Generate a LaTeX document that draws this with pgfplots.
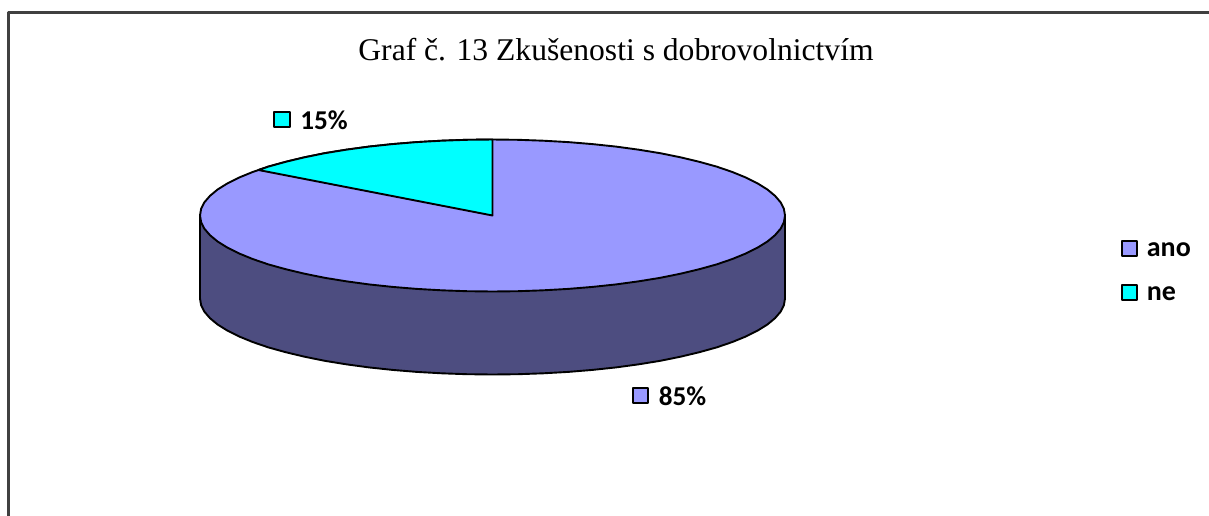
\documentclass[border=0pt]{standalone}
\usepackage{pgfplots}
\pgfplotsset{compat=1.18}
\usepackage{fontspec}
\setmainfont{Liberation Serif}
\newfontfamily\lab{Carlito}[Scale=1]
\definecolor{ano}{HTML}{9999FF}
\definecolor{ne}{HTML}{00FFFF}
\definecolor{side}{HTML}{4D4D80}
\definecolor{frm}{HTML}{404040}
\begin{document}
\begin{tikzpicture}
\path[use as bounding box] (0,0) rectangle (604.5pt,257.5pt);
\begin{axis}[
  at={(0,0)}, anchor=south west,
  scale only axis, width=604.5pt, height=257.5pt,
  xmin=-0.5, xmax=1208.5, ymin=-0.5, ymax=514.5, y dir=reverse,
  hide axis, clip=true,
  every axis plot/.append style={line join=round},
]
% frame
\addplot[frm, line width=1.1pt] coordinates {(8,520) (8,12) (1215,12)};
% side of the disc
\addplot[fill=side, draw=black, line width=0.95pt] coordinates {
(199.5,215)(199.5,298)(200.6,304.6)(203.9,311.2)(209.5,317.7)(217.1,324)(226.9,330.1)(238.7,336)(252.4,341.6)(267.9,346.9)(285.2,351.7)(304,356.2)(324.2,360.3)(345.7,363.8)(368.4,366.9)(392,369.4)(416.3,371.4)(441.2,372.8)(466.5,373.7)(492,374)
(517.5,373.7)(542.8,372.8)(567.7,371.4)(592,369.4)(615.6,366.9)(638.3,363.8)(659.8,360.3)(680,356.2)(698.8,351.7)(716.1,346.9)(731.6,341.6)(745.3,336)(757.1,330.1)(766.9,324)(774.5,317.7)(780.1,311.2)(783.4,304.6)(784.5,298)(784.5,215)} -- cycle;
% top: ano 85 %
\addplot[fill=ano, draw=black, line width=0.95pt] coordinates {
(784.5,215)(783.4,208.4)(780.1,201.8)(774.5,195.3)(766.9,189)(757.1,182.9)(745.3,177)(731.6,171.4)(716.1,166.1)(698.8,161.3)(680,156.8)(659.8,152.7)(638.3,149.2)(615.6,146.1)(592,143.6)(567.7,141.6)(542.8,140.2)(517.5,139.3)(492,139)
(466.5,139.3)(441.2,140.2)(416.3,141.6)(392,143.6)(368.4,146.1)(345.7,149.2)(324.2,152.7)(304,156.8)(285.2,161.3)(267.9,166.1)(252.4,171.4)(238.7,177)(226.9,182.9)(217.1,189)(209.5,195.3)(203.9,201.8)(200.6,208.4)(199.5,215)
(200.6,221.6)(203.9,228.2)(209.5,234.7)(217.1,241)(226.9,247.1)(238.7,253)(252.4,258.6)(267.9,263.9)(285.2,268.7)(304,273.2)(324.2,277.3)(345.7,280.8)(368.4,283.9)(392,286.4)(416.3,288.4)(441.2,289.8)(466.5,290.7)(492,291)
(517.5,290.7)(542.8,289.8)(567.7,288.4)(592,286.4)(615.6,283.9)(638.3,280.8)(659.8,277.3)(680,273.2)(698.8,268.7)(716.1,263.9)(731.6,258.6)(745.3,253)(757.1,247.1)(766.9,241)(774.5,234.7)(780.1,228.2)(783.4,221.6)} -- cycle;
% top: ne 15 %
\addplot[fill=ne, draw=black, line width=0.95pt] coordinates {
(492,215)(492,139)(466.5,139.3)(441.2,140.2)(416.3,141.6)(392,143.6)(368.4,146.1)(345.7,149.2)(324.2,152.7)(304,156.8)(285.2,161.3)(267.9,166.1)(258,169.5)} -- cycle;
% label and legend keys
\addplot[only marks, mark=square*, mark size=3.9pt, mark options={fill=ano, draw=black, line width=0.9pt}] coordinates {(640,395)(1129,248)};
\addplot[only marks, mark=square*, mark size=3.9pt, mark options={fill=ne, draw=black, line width=0.9pt}] coordinates {(281.5,119)(1129,292)};
\node[font=\fontsize{15.8pt}{18pt}\selectfont, inner sep=0pt] at (axis cs:615.5,49) {Graf č. 13 Zkušenosti s dobrovolnictvím};
\node[font=\lab\bfseries\fontsize{13.6pt}{16pt}\selectfont, anchor=west, inner sep=0pt] at (axis cs:299.5,120) {15\%};
\node[font=\lab\bfseries\fontsize{13.6pt}{16pt}\selectfont, anchor=west, inner sep=0pt] at (axis cs:658,396) {85\%};
\node[font=\lab\bfseries\fontsize{14pt}{16pt}\selectfont, anchor=west, inner sep=0pt] at (axis cs:1146,249) {ano};
\node[font=\lab\bfseries\fontsize{14pt}{16pt}\selectfont, anchor=west, inner sep=0pt] at (axis cs:1146,293) {ne};
\end{axis}
\end{tikzpicture}
\end{document}
